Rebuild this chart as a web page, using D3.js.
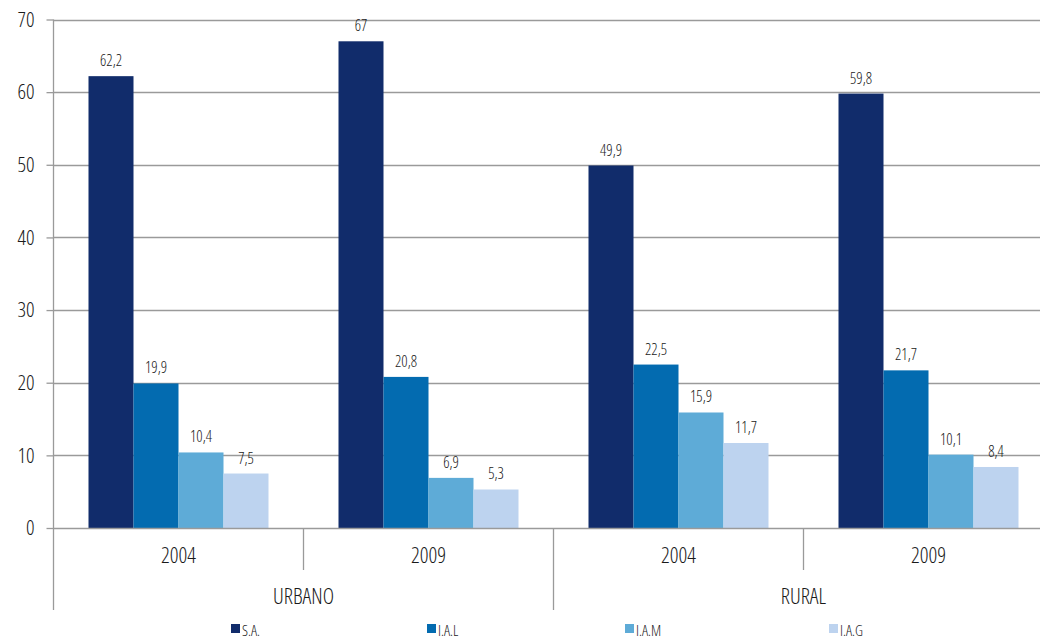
<!DOCTYPE html>
<html>
<head>
<meta charset="utf-8">
<script src="https://cdn.jsdelivr.net/npm/d3@7"></script>
<style>
  body { margin: 0; background: #fff; }
  svg text { font-family: "Open Sans", "Noto Sans", sans-serif; font-stretch: 80%; font-weight: 360; fill: #1a1a1a; }
</style>
</head>
<body>
<div id="chart"></div>
<script>
const width = 1040;
const height = 638;

const zones = ["URBANO", "RURAL"];
const years = ["2004", "2009"];
const series = ["S.A.", "I.A.L", "I.A.M", "I.A.G"];
const colors = ["#112c6b", "#036bb0", "#5eabd7", "#bdd3ef"];
// one row per zone/year slot, one value per series
const values = [
    [62.2, 19.9, 10.4, 7.5],
    [67, 20.8, 6.9, 5.3],
    [49.9, 22.5, 15.9, 11.7],
    [59.8, 21.7, 10.1, 8.4]
];
const yTicks = [0, 10, 20, 30, 40, 50, 60, 70];

const slots = [];
zones.forEach(z => years.forEach(y => slots.push({ zone: z, year: y })));
slots.forEach((s, i) => s.values = values[i]);

const x0 = 53.5;
const slotW = 250;

const svg = d3.select("#chart")
    .append("svg")
    .attr("width", width)
    .attr("height", height);

const x = d3.scaleBand()
    .domain(d3.range(slots.length))
    .range([x0, x0 + slotW * slots.length])
    .paddingInner(0)
    .paddingOuter(0);

const xInner = d3.scaleBand()
    .domain(series)
    .range([35, 215]);

const y = d3.scaleLinear()
    .domain([0, 70])
    .range([528, 19.5]);

// gridlines
svg.append("g")
    .selectAll("line")
    .data(yTicks.filter(d => d > 0))
    .enter()
    .append("line")
    .attr("x1", x0)
    .attr("x2", width)
    .attr("y1", d => Math.round(y(d)) + 0.5)
    .attr("y2", d => Math.round(y(d)) + 0.5)
    .attr("stroke", "#9a9a9a")
    .attr("stroke-width", 1.3);

// y axis
const yAxis = d3.axisLeft(y)
    .tickValues(yTicks)
    .tickSize(7)
    .tickPadding(12)
    .tickFormat(d => d);

const gy = svg.append("g")
    .attr("transform", `translate(${x0},0)`)
    .call(yAxis);
gy.select(".domain").remove();
gy.selectAll(".tick line").attr("stroke", "#9a9a9a").attr("stroke-width", 1.3);
gy.selectAll(".tick text")
    .attr("font-size", 21)
    .attr("fill", "#1a1a1a");
gy.attr("font-family", null);

// bars
const groups = svg.append("g")
    .selectAll("g")
    .data(slots)
    .enter()
    .append("g")
    .attr("transform", (d, i) => `translate(${x(i)},0)`);

groups.selectAll("rect")
    .data(d => d.values.map((v, j) => ({ key: series[j], value: v, color: colors[j] })))
    .enter()
    .append("rect")
    .attr("x", d => xInner(d.key))
    .attr("width", xInner.bandwidth())
    .attr("y", d => y(d.value))
    .attr("height", d => y(0) - y(d.value))
    .attr("fill", d => d.color);

groups.selectAll("text.val")
    .data(d => d.values.map((v, j) => ({ key: series[j], value: v })))
    .enter()
    .append("text")
    .attr("class", "val")
    .attr("x", d => xInner(d.key) + xInner.bandwidth() / 2)
    .attr("y", d => y(d.value) - 10)
    .attr("text-anchor", "middle")
    .attr("font-size", 15.5)
    .text(d => String(d.value).replace(".", ","));

// baseline and y axis line
svg.append("line")
    .attr("x1", x0).attr("x2", width)
    .attr("y1", y(0) + 0.5).attr("y2", y(0) + 0.5)
    .attr("stroke", "#9a9a9a").attr("stroke-width", 1.3);

svg.append("line")
    .attr("x1", x0).attr("x2", x0)
    .attr("y1", y(70)).attr("y2", 610)
    .attr("stroke", "#9a9a9a").attr("stroke-width", 1.3);

// separators between years and zones
svg.append("g")
    .selectAll("line")
    .data(d3.range(1, slots.length))
    .enter()
    .append("line")
    .attr("x1", i => x(i))
    .attr("x2", i => x(i))
    .attr("y1", y(0))
    .attr("y2", i => i % years.length === 0 ? 610 : 570)
    .attr("stroke", "#9a9a9a")
    .attr("stroke-width", 1.3);

// year labels
svg.append("g")
    .selectAll("text")
    .data(slots)
    .enter()
    .append("text")
    .attr("x", (d, i) => x(i) + slotW / 2)
    .attr("y", 563)
    .attr("text-anchor", "middle")
    .attr("font-size", 21.5)
    .text(d => d.year);

// zone labels
svg.append("g")
    .selectAll("text")
    .data(zones)
    .enter()
    .append("text")
    .attr("x", (d, i) => x(i * years.length) + slotW * years.length / 2)
    .attr("y", 604)
    .attr("text-anchor", "middle")
    .attr("font-size", 21.5)
    .text(d => d);

// legend
const legendX = [231, 427, 625, 829];
const legend = svg.append("g")
    .selectAll("g")
    .data(series)
    .enter()
    .append("g")
    .attr("transform", (d, i) => `translate(${legendX[i]},624)`);

legend.append("rect")
    .attr("width", 9)
    .attr("height", 9)
    .attr("fill", (d, i) => colors[i]);

legend.append("text")
    .attr("x", 11)
    .attr("y", 11.5)
    .attr("font-size", 15)
    .text(d => d);
</script>
</body>
</html>
